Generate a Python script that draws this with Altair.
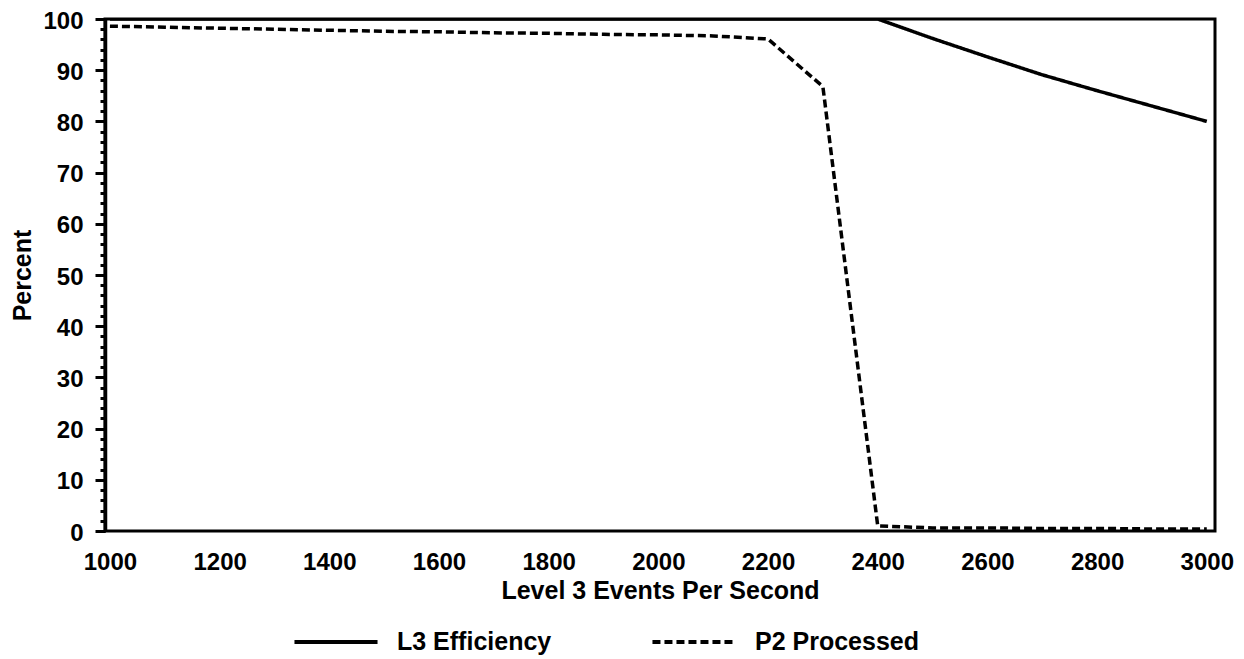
import altair as alt
import pandas as pd

x_vals = [1000, 1100, 1200, 1300, 1400, 1500, 1600, 1700, 1800, 1900, 2000,
          2100, 2200, 2300, 2400, 2500, 2600, 2700, 2800, 2900, 3000]
l3_eff = [100, 100, 100, 100, 100, 100, 100, 100, 100, 100, 100,
          100, 100, 100, 100, 96.2, 92.6, 89.1, 86, 83, 80]
p2_proc = [98.6, 98.4, 98.2, 98.0, 97.8, 97.6, 97.5, 97.3, 97.2, 97.0, 96.9,
           96.7, 96.1, 86.8, 1.0, 0.6, 0.6, 0.5, 0.5, 0.4, 0.4]
series_names = ["L3 Efficiency", "P2 Processed"]
x_ticks = list(range(1000, 3001, 200))
y_ticks = list(range(0, 101, 10))
y_minor = list(range(0, 101, 2))

rows = []
for x, a, b in zip(x_vals, l3_eff, p2_proc):
    rows.append({"x": x, "v": a, "s": series_names[0]})
    rows.append({"x": x, "v": b, "s": series_names[1]})
df = pd.DataFrame(rows)

FONT = "Liberation Sans"

xscale = alt.Scale(domain=[991, 3015], nice=False, zero=False)
yscale = alt.Scale(domain=[0, 100], nice=False)

lines = alt.Chart(df).mark_line(strokeWidth=3.5, color="black", clip=True).encode(
    x=alt.X("x:Q", scale=xscale,
            axis=alt.Axis(title="Level 3 Events Per Second", values=x_ticks, format="d",
                          ticks=False, domain=False, grid=False, labelPadding=19,
                          labelFontSize=24, labelFontWeight="bold", labelFont=FONT,
                          titleFontSize=25, titleFontWeight="bold", titleFont=FONT,
                          titlePadding=4, labelColor="black", titleColor="black")),
    y=alt.Y("v:Q", scale=yscale,
            axis=alt.Axis(title="Percent", values=y_ticks, ticks=True, tickSize=10,
                          tickWidth=3, tickColor="black", domain=False, grid=False,
                          labelFontSize=24, labelFontWeight="bold", labelFont=FONT,
                          titleFontSize=25, titleFontWeight="bold", titleFont=FONT,
                          labelPadding=12, labelOffset=2, titleX=-70, titleY=256,
                          orient="left", labelColor="black", titleColor="black")),
    strokeDash=alt.StrokeDash("s:N",
        scale=alt.Scale(domain=series_names, range=[[1, 0], [8, 4]]),
        legend=alt.Legend(title=None, orient="none", direction="horizontal",
                          legendX=187, legendY=579, symbolType="stroke",
                          symbolSize=6900, symbolStrokeWidth=4,
                          symbolStrokeColor="black", labelFontSize=25,
                          labelFontWeight="bold", labelFont=FONT, labelColor="black",
                          labelLimit=400, columnPadding=92, labelOffset=17,
                          padding=0)),
    detail="s:N",
)

minor = alt.Chart(pd.DataFrame({"m": y_minor})).mark_tick(opacity=0).encode(
    y=alt.Y("m:Q", scale=yscale,
            axis=alt.Axis(title=None, values=y_minor, labels=False, ticks=True,
                          tickSize=5, tickWidth=3, tickColor="black", domain=True,
                          domainWidth=3.5, domainColor="black", grid=False,
                          orient="left")),
)

chart = alt.layer(lines, minor).resolve_scale(y="shared").resolve_axis(
    y="independent"
).properties(
    width=1110, height=512,
    autosize=alt.AutoSizeParams(type="none"),
    padding={"left": 97, "top": 11, "right": 21, "bottom": 128},
).configure(background="white").configure_view(stroke="black", strokeWidth=3)

chart.save("out.html", embed_options={"renderer": "svg", "actions": False})
